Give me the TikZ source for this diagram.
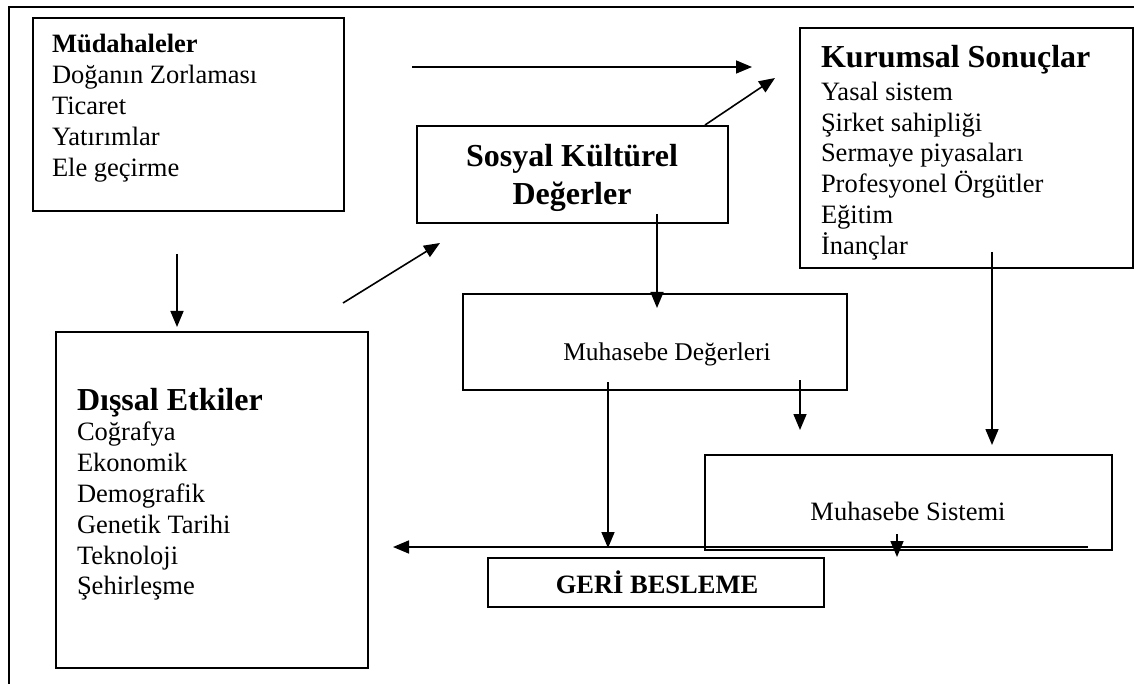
\documentclass[tikz,border=0pt]{standalone}
\usepackage{fontspec}
\setmainfont{Liberation Serif}
\usetikzlibrary{arrows.meta}
\begin{document}
\begin{tikzpicture}[x=1pt,y=-1pt,
  box/.style={draw, line width=2pt, outer sep=0pt, inner sep=0pt, anchor=north west},
  arr/.style={-{Triangle[length=16pt,width=13pt]}, line width=1.6pt},
  txt/.style={inner sep=0pt, outer sep=0pt, font=\fontsize{26.5}{30.8}\selectfont},
  head/.style={inner sep=0pt, outer sep=0pt, font=\fontsize{32}{38}\selectfont\bfseries}]
\useasboundingbox (0,0) rectangle (1134,684);
% outer frame (cropped)
\draw[line width=1.8pt] (9,684) -- (9,7) -- (1134,7);
% boxes
\node[box, minimum width=311pt, minimum height=193pt] (mud) at (33,18) {};
\node[box, minimum width=333pt, minimum height=240pt] (kur) at (800,28) {};
\node[box, minimum width=311pt, minimum height=97pt] (sos) at (417,126) {};
\node[box, minimum width=384pt, minimum height=96pt] (mdeg) at (463,294) {};
\node[box, minimum width=312pt, minimum height=336pt] (dis) at (56,332) {};
\node[box, minimum width=407pt, minimum height=95pt] (msis) at (705,455) {};
\node[box, minimum width=336pt, minimum height=49pt] (geri) at (488,558) {};
% texts
\node[txt, anchor=base west] (mudt) at (52,53) {\vtop{\hbox{\bfseries Müdahaleler}\hbox{Doğanın Zorlaması}\hbox{Ticaret}\hbox{Yatırımlar}\hbox{Ele geçirme}}};
\node[txt, anchor=base west] (kurt) at (821,68) {\vtop{\hbox{\fontsize{32}{32}\selectfont\bfseries Kurumsal Sonuçlar}\vskip1.5pt\hbox{Yasal sistem}\hbox{Şirket sahipliği}\hbox{Sermaye piyasaları}\hbox{Profesyonel Örgütler}\hbox{Eğitim}\hbox{İnançlar}}};
\node[txt, anchor=base west] (dist) at (77,410) {\vtop{\hbox{\fontsize{32}{32}\selectfont\bfseries Dışsal Etkiler}\hbox{Coğrafya}\hbox{Ekonomik}\hbox{Demografik}\hbox{Genetik Tarihi}\hbox{Teknoloji}\hbox{Şehirleşme}}};
\node[head, anchor=base] (sost) at (572,167) {\vtop{\hbox to 0pt{\hss Sosyal Kültürel\hss}\hbox to 0pt{\hss Değerler\hss}}};
\node[inner sep=0pt, font=\fontsize{25.5}{30}\selectfont, anchor=base] (mdegt) at (667,360) {Muhasebe Değerleri};
\node[txt, anchor=base] (msist) at (908,520) {Muhasebe Sistemi};
\node[txt, anchor=base, font=\fontsize{26.5}{30.8}\selectfont\bfseries] (gerit) at (657,593) {GERİ BESLEME};
% connector end points
\coordinate (a1s) at (412,67);  \coordinate (a1e) at (752,67);
\coordinate (a2s) at (705,125); \coordinate (a2e) at (775,78);
\coordinate (a3s) at (343,303); \coordinate (a3e) at (440,243);
\coordinate (a4s) at (177,254); \coordinate (a4e) at (177,327);
\coordinate (a5s) at (657,214); \coordinate (a5e) at (657,308);
\coordinate (a6s) at (608,382); \coordinate (a6e) at (608,548);
\coordinate (a7s) at (800,380); \coordinate (a7e) at (800,430);
\coordinate (a8s) at (992,252); \coordinate (a8e) at (992,445);
\coordinate (a9s) at (897,534); \coordinate (a9e) at (897,557);
\coordinate (fbs) at (1088,547); \coordinate (fbe) at (393,547);
% connectors
\draw[arr] (a1s) -- (a1e);
\draw[arr] (a2s) -- (a2e);
\draw[arr] (a3s) -- (a3e);
\draw[arr] (a4s) -- (a4e);
\draw[arr] (a5s) -- (a5e);
\draw[arr] (a6s) -- (a6e);
\draw[arr] (a7s) -- (a7e);
\draw[arr] (a8s) -- (a8e);
\draw[arr] (a9s) -- (a9e);
\draw[arr] (fbs) -- (fbe);
\end{tikzpicture}
\end{document}
